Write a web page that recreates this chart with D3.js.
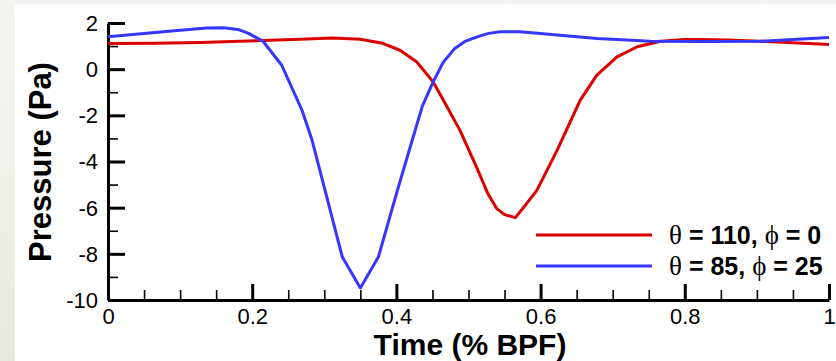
<!DOCTYPE html>
<html>
<head>
<meta charset="utf-8">
<script src="https://cdn.jsdelivr.net/npm/d3@7"></script>
<style>
  html, body { margin: 0; padding: 0; background: #f2f3ee; }
  svg { display: block; }
  text { font-family: "Liberation Sans", Arial, sans-serif; }
</style>
</head>
<body>
<svg id="chart" width="836" height="361"></svg>
<script>
// Time in fractions of a blade-passing period, pressure in Pa
const timeRed = [0, 0.064, 0.128, 0.215, 0.266, 0.312, 0.35, 0.381, 0.405, 0.428, 0.451, 0.465, 0.488, 0.511, 0.527, 0.539, 0.55, 0.565, 0.58, 0.595, 0.623, 0.655, 0.678, 0.706, 0.734, 0.766, 0.8, 0.821, 0.86, 0.904, 0.95, 1.0];
const pressRed = [1.11, 1.12, 1.16, 1.24, 1.30, 1.35, 1.30, 1.12, 0.82, 0.32, -0.55, -1.34, -2.64, -4.23, -5.4, -6.03, -6.3, -6.43, -5.85, -5.24, -3.51, -1.34, -0.26, 0.53, 0.97, 1.21, 1.28, 1.29, 1.26, 1.21, 1.14, 1.07];

const timeBlue = [0, 0.05, 0.10, 0.137, 0.16, 0.18, 0.195, 0.215, 0.241, 0.269, 0.283, 0.325, 0.35, 0.375, 0.40, 0.422, 0.436, 0.451, 0.465, 0.481, 0.495, 0.512, 0.528, 0.544, 0.571, 0.6, 0.627, 0.678, 0.72, 0.752, 0.83, 0.904, 0.95, 1.0];
const pressBlue = [1.40, 1.54, 1.69, 1.78, 1.79, 1.72, 1.55, 1.21, 0.17, -1.77, -3.07, -8.14, -9.48, -8.14, -5.4, -3.07, -1.6, -0.55, 0.3, 0.90, 1.2, 1.40, 1.55, 1.62, 1.62, 1.55, 1.47, 1.33, 1.26, 1.21, 1.2, 1.21, 1.28, 1.37];

const seriesNames = ["θ = 110, ϕ = 0", "θ = 85, ϕ = 25"];
const seriesColors = ["#dc0000", "#3636ff"];

const xMajorTicks = [0, 0.2, 0.4, 0.6, 0.8, 1];
const xTickLabels = ["0", "0.2", "0.4", "0.6", "0.8", "1"];
const xMinorTicks = [0.05, 0.1, 0.15, 0.25, 0.3, 0.35, 0.45, 0.5, 0.55, 0.65, 0.7, 0.75, 0.85, 0.9, 0.95];
const yMajorTicks = [-10, -8, -6, -4, -2, 0, 2];
const yTickLabels = ["-10", "-8", "-6", "-4", "-2", "0", "2"];
const yMinorTicks = [-9, -7, -5, -3, -1, 1];

const xTitle = "Time (% BPF)";
const yTitle = "Pressure (Pa)";

const svg = d3.select("#chart");
const W = 836, H = 361;

// soft backdrop with white panel
const defs = svg.append("defs");
const grad = defs.append("linearGradient").attr("id", "sideFade").attr("x1", 0).attr("y1", 0).attr("x2", 0).attr("y2", 1);
grad.append("stop").attr("offset", "0%").attr("stop-color", "#f3f4f0");
grad.append("stop").attr("offset", "55%").attr("stop-color", "#eef0e8");
grad.append("stop").attr("offset", "100%").attr("stop-color", "#e6ebdc");
svg.append("rect").attr("width", W).attr("height", H).attr("fill", "url(#sideFade)");
svg.append("rect").attr("x", 15).attr("y", 4).attr("width", W - 15).attr("height", H - 4).attr("fill", "#ffffff");

const x = d3.scaleLinear().domain([0, 1]).range([108, 829]);
const y = d3.scaleLinear().domain([-10, 2]).range([300, 23]);

// minor ticks
svg.append("g").attr("transform", `translate(0,${y(-10)})`)
  .call(d3.axisBottom(x).tickValues(xMinorTicks).tickSize(-10).tickFormat(""))
  .call(g => g.select(".domain").remove())
  .call(g => g.selectAll("line").attr("stroke", "#000").attr("stroke-width", 1.6));
svg.append("g").attr("transform", `translate(${x(0)},0)`)
  .call(d3.axisLeft(y).tickValues(yMinorTicks).tickSize(-10).tickFormat(""))
  .call(g => g.select(".domain").remove())
  .call(g => g.selectAll("line").attr("stroke", "#000").attr("stroke-width", 1.6));

// major axes
const xAxis = svg.append("g").attr("transform", `translate(0,${y(-10)})`)
  .call(d3.axisBottom(x).tickValues(xMajorTicks).tickSize(-16).tickSizeOuter(0).tickPadding(8)
    .tickFormat((d, i) => xTickLabels[i]));
const yAxis = svg.append("g").attr("transform", `translate(${x(0)},0)`)
  .call(d3.axisLeft(y).tickValues(yMajorTicks).tickSize(-17).tickSizeOuter(0).tickPadding(10)
    .tickFormat((d, i) => yTickLabels[i]));

[xAxis, yAxis].forEach(g => {
  g.select(".domain").attr("stroke", "#000").attr("stroke-width", 3);
  g.selectAll(".tick line").attr("stroke", "#000").attr("stroke-width", 3);
  g.selectAll(".tick text").attr("fill", "#000").style("font-size", "22px")
    .style("font-family", "'Liberation Sans', Arial, sans-serif");
});
xAxis.selectAll(".tick text").attr("dy", "0.72em");
yAxis.selectAll(".tick text").attr("dy", "0.34em");

// series lines
const line = d3.line().x(d => x(d[0])).y(d => y(d[1])).curve(d3.curveLinear);
const seriesData = [
  d3.zip(timeRed, pressRed),
  d3.zip(timeBlue, pressBlue)
];
seriesData.forEach((data, i) => {
  svg.append("path").datum(data)
    .attr("fill", "none")
    .attr("stroke", seriesColors[i])
    .attr("stroke-width", 3)
    .attr("stroke-linejoin", "round")
    .attr("d", line);
});

// legend
const legendRows = [235, 266];
seriesNames.forEach((name, i) => {
  const ly = legendRows[i];
  svg.append("line").attr("x1", 536).attr("x2", 652).attr("y1", ly).attr("y2", ly)
    .attr("stroke", seriesColors[i]).attr("stroke-width", 3);
  const parts = name.split(/([θϕ])/).filter(s => s.length);
  const t = svg.append("text").attr("x", 669).attr("y", ly).attr("dy", "0.36em")
    .style("font-size", "25px").attr("fill", "#000");
  parts.forEach(p => {
    const greek = p === "θ" || p === "ϕ";
    t.append("tspan").text(p)
      .style("font-family", greek ? "'Liberation Serif', 'DejaVu Serif', serif" : "'Liberation Sans', Arial, sans-serif")
      .style("font-weight", greek ? "normal" : "bold")
      .style("font-size", greek ? "27px" : "25px");
  });
});

// axis titles
svg.append("text").attr("x", 470).attr("y", 355).attr("text-anchor", "middle")
  .style("font-size", "30px").style("font-weight", "bold").text(xTitle);
svg.append("text").attr("transform", `translate(51,162) rotate(-90)`).attr("text-anchor", "middle")
  .style("font-size", "31px").style("font-weight", "bold").text(yTitle);
</script>
</body>
</html>
